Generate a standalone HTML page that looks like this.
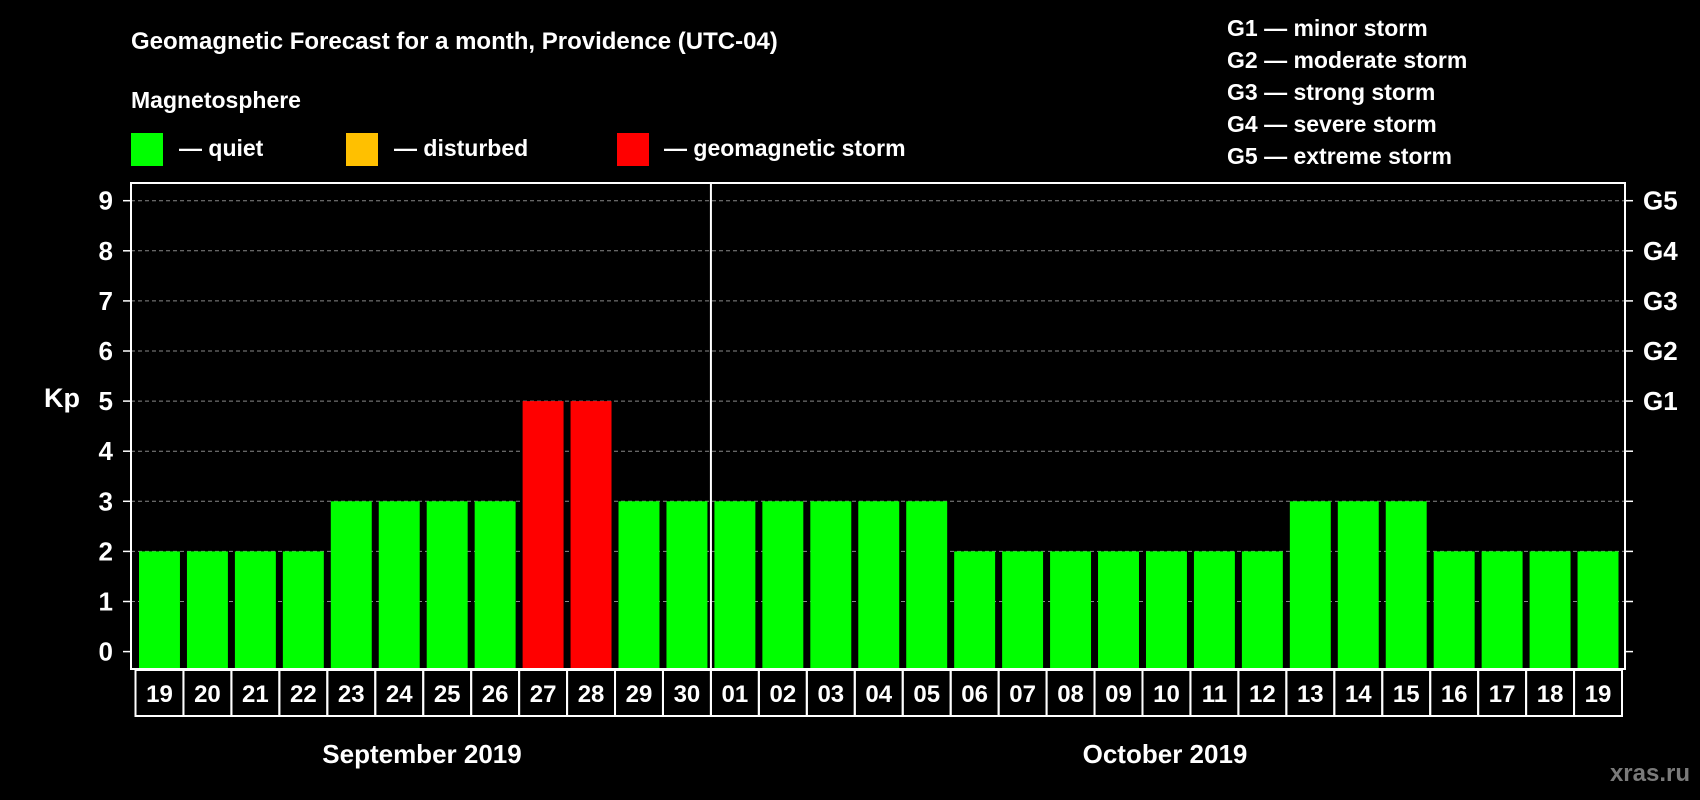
<!DOCTYPE html>
<html><head><meta charset="utf-8"><style>
html,body{margin:0;padding:0;background:#000;width:1700px;height:800px;overflow:hidden}
svg{display:block;font-family:"Liberation Sans",sans-serif;font-weight:bold}
</style></head><body>
<svg id="chart" width="1700" height="800">
<text x="131" y="49" fill="#fff" font-size="24">Geomagnetic Forecast for a month, Providence (UTC-04)</text>
<text x="131" y="108" fill="#fff" font-size="23">Magnetosphere</text>
<rect x="131" y="133" width="32" height="33" fill="#00ff00"/>
<text x="179" y="156" fill="#fff" font-size="23">— quiet</text>
<rect x="346" y="133" width="32" height="33" fill="#ffc000"/>
<text x="394" y="156" fill="#fff" font-size="23">— disturbed</text>
<rect x="617" y="133" width="32" height="33" fill="#ff0000"/>
<text x="664" y="156" fill="#fff" font-size="23">— geomagnetic storm</text>
<g font-size="23" fill="#fff">
<text x="1227" y="36">G1 — minor storm</text>
<text x="1227" y="68">G2 — moderate storm</text>
<text x="1227" y="100">G3 — strong storm</text>
<text x="1227" y="132">G4 — severe storm</text>
<text x="1227" y="164">G5 — extreme storm</text>
</g>
<text x="62" y="407" fill="#fff" font-size="27" text-anchor="middle">Kp</text>
<text x="422" y="763" fill="#fff" font-size="26" text-anchor="middle">September 2019</text>
<text x="1165" y="763" fill="#fff" font-size="26" text-anchor="middle">October 2019</text>
<text x="1690" y="781" fill="#7a7a7a" font-size="24" text-anchor="end">xras.ru</text>
<g id="plot"></g>
</svg>
<script>
const days=["19","20","21","22","23","24","25","26","27","28","29","30","01","02","03","04","05","06","07","08","09","10","11","12","13","14","15","16","17","18","19"];
const kp=[2,2,2,2,3,3,3,3,5,5,3,3,3,3,3,3,3,2,2,2,2,2,2,2,3,3,3,2,2,2,2];
const yTicks=[0,1,2,3,4,5,6,7,8,9];
const gLabels=["","","","","","G1","G2","G3","G4","G5"];
const NS="http://www.w3.org/2000/svg";
const L=131,R=1625,T=183,B=669,Y0=651.6,UNIT=50.1;
const cx0=135.5,cw=(1622-135.5)/days.length;
const y=v=>Y0-v*UNIT;
const g=document.getElementById('plot');
function mk(t,a){const e=document.createElementNS(NS,t);for(const k in a)e.setAttribute(k,a[k]);g.appendChild(e);return e;}
function col(v){return v>=5?"#ff0000":v>=4?"#ffc000":"#00ff00";}
yTicks.forEach((v,i)=>{
 if(v>0){const gl=mk('line',{x1:L,x2:R,y1:y(v),y2:y(v),stroke:"#888","stroke-dasharray":"4,3","stroke-width":1});
 
 }
 mk('line',{x1:L-8,x2:L,y1:y(v),y2:y(v),stroke:"#fff","stroke-width":1.5});
 mk('line',{x1:R,x2:R+8,y1:y(v),y2:y(v),stroke:"#fff","stroke-width":1.5});
 const t=mk('text',{x:L-18,y:y(v)+9,fill:"#fff","font-size":26,"text-anchor":"end"});t.textContent=v;
 
 
 if(gLabels[i]){const r=mk('text',{x:R+18,y:y(v)+9,fill:"#fff","font-size":26});r.textContent=gLabels[i];
 
 }
});
kp.forEach((v,i)=>{
 const x=cx0+i*cw;
 const b=mk('rect',{x:x+3.5,y:y(v),width:cw-7,height:B-1-y(v),fill:col(v)});
 
 
 const c=mk('rect',{x:x,y:B+1,width:cw,height:46,fill:"none",stroke:"#fff","stroke-width":2});
 
 
 const t=mk('text',{x:x+cw/2,y:B+33,fill:"#fff","font-size":24,"text-anchor":"middle"});t.textContent=days[i];
 
 
});
const fr=mk('rect',{x:L,y:T,width:R-L,height:B-T,fill:"none",stroke:"#fff","stroke-width":2});


const dv=mk('line',{x1:cx0+12*cw,x2:cx0+12*cw,y1:T,y2:B,stroke:"#fff","stroke-width":2});


</script>
</body></html>
